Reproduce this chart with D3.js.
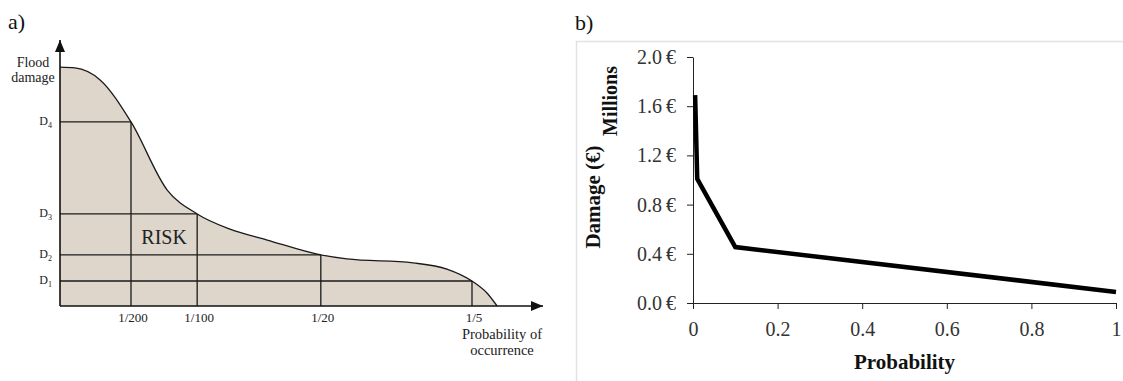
<!DOCTYPE html>
<html>
<head>
<meta charset="utf-8">
<script src="https://cdn.jsdelivr.net/npm/d3@7"></script>
<style>
  html, body { margin: 0; padding: 0; background: #fff; }
  svg text { font-family: "Liberation Serif", "Times New Roman", serif; }
</style>
</head>
<body>
<script>
// ---- panel a: conceptual risk curve (abstract units 0..100) ----
const curveX = [0, 3.1, 8.3, 14.7, 22.2, 28.4, 35.2, 42.9, 54.0, 59.4, 73.1, 80.1, 85.3, 88.4, 90.5];
const curveY = [89.8, 89.5, 85.0, 69.2, 43.6, 34.6, 28.9, 24.8, 19.2, 17.7, 16.2, 13.9, 9.4, 4.9, 0];
const damageLevels = [69.2, 34.6, 19.2, 9.4];
const damageNames = ["4", "3", "2", "1"];
const probPositions = [14.7, 28.4, 54.0, 85.3];
const probLabels = ["1/200", "1/100", "1/20", "1/5"];

// ---- panel b: damage vs probability ----
const probability = [0.005, 0.01, 0.1, 1];
const damageMillions = [1.69, 1.01, 0.455, 0.09];
const xTicksB = [0, 0.2, 0.4, 0.6, 0.8, 1];
const yTicksB = [0, 0.4, 0.8, 1.2, 1.6, 2.0];

const serif = "'Liberation Serif', 'Times New Roman', serif";
const W = 1123, H = 381;
const svg = d3.select("body").append("svg")
  .attr("width", W)
  .attr("height", H)
  .attr("viewBox", [0, 0, W, H])
  .attr("font-family", serif);

// arrow marker
svg.append("defs").append("marker")
  .attr("id", "arrow")
  .attr("viewBox", "0 0 12 10")
  .attr("refX", 12)
  .attr("refY", 5)
  .attr("markerWidth", 12)
  .attr("markerHeight", 10)
  .attr("markerUnits", "userSpaceOnUse")
  .attr("orient", "auto")
  .append("path")
  .attr("d", "M0,0L12,5L0,10z")
  .attr("fill", "#111");

// ================= panel a =================
const xa = d3.scaleLinear().domain([0, 100]).range([60, 543]);
const ya = d3.scaleLinear().domain([0, 100]).range([306, 40]);
const I = d3.range(curveX.length);

const ga = svg.append("g");

ga.append("text")
  .attr("x", 8).attr("y", 29)
  .attr("font-size", 22)
  .attr("fill", "#111")
  .text("a)");

const area = d3.area()
  .curve(d3.curveMonotoneX)
  .x(i => xa(curveX[i]))
  .y0(ya(0))
  .y1(i => ya(curveY[i]));

const line = d3.line()
  .curve(d3.curveMonotoneX)
  .x(i => xa(curveX[i]))
  .y(i => ya(curveY[i]));

ga.append("path")
  .attr("fill", "#ded6ca")
  .attr("d", area(I));

ga.append("path")
  .attr("fill", "none")
  .attr("stroke", "#1a1a1a")
  .attr("stroke-width", 1.3)
  .attr("d", line(I));

// grid lines to the curve
damageLevels.forEach((lv, i) => {
  ga.append("line")
    .attr("x1", xa(0)).attr("x2", xa(probPositions[i]))
    .attr("y1", ya(lv)).attr("y2", ya(lv))
    .attr("stroke", "#1a1a1a").attr("stroke-width", 1.3);
  ga.append("line")
    .attr("x1", xa(probPositions[i])).attr("x2", xa(probPositions[i]))
    .attr("y1", ya(lv)).attr("y2", ya(0))
    .attr("stroke", "#1a1a1a").attr("stroke-width", 1.3);

  const t = ga.append("text")
    .attr("x", xa(0) - 8)
    .attr("y", ya(lv) + 3)
    .attr("text-anchor", "end")
    .attr("font-size", 12)
    .attr("fill", "#222");
  t.append("tspan").text("D");
  t.append("tspan").attr("font-size", 8).attr("dy", 3).text(damageNames[i]);

  ga.append("text")
    .attr("x", xa(probPositions[i]) + 2)
    .attr("y", ya(0) + 16)
    .attr("text-anchor", "middle")
    .attr("font-size", 13)
    .attr("fill", "#222")
    .text(probLabels[i]);
});

// axes with arrows
ga.append("line")
  .attr("x1", xa(0)).attr("y1", ya(0))
  .attr("x2", xa(0)).attr("y2", ya(100))
  .attr("stroke", "#111").attr("stroke-width", 1.6)
  .attr("marker-end", "url(#arrow)");
ga.append("line")
  .attr("x1", xa(0)).attr("y1", ya(0))
  .attr("x2", xa(100)).attr("y2", ya(0))
  .attr("stroke", "#111").attr("stroke-width", 1.6)
  .attr("marker-end", "url(#arrow)");

ga.append("text")
  .attr("x", (xa(probPositions[0]) + xa(probPositions[1])) / 2)
  .attr("y", 244)
  .attr("text-anchor", "middle")
  .attr("font-size", 20)
  .attr("fill", "#222")
  .text("RISK");

ga.append("text")
  .attr("text-anchor", "middle")
  .attr("font-size", 14)
  .attr("fill", "#222")
  .selectAll("tspan")
  .data(["Flood", "damage"])
  .join("tspan")
  .attr("x", 33)
  .attr("y", (d, i) => 67 + i * 15)
  .text(d => d);

ga.append("text")
  .attr("text-anchor", "middle")
  .attr("font-size", 14.5)
  .attr("fill", "#222")
  .selectAll("tspan")
  .data(["Probability of", "occurrence"])
  .join("tspan")
  .attr("x", 502)
  .attr("y", (d, i) => 339 + i * 16)
  .text(d => d);

// ================= panel b =================
const gb = svg.append("g");

gb.append("text")
  .attr("x", 575).attr("y", 30)
  .attr("font-size", 22)
  .attr("fill", "#111")
  .text("b)");

// faint frame
gb.append("path")
  .attr("d", "M576.5,381V41.5H1123")
  .attr("fill", "none")
  .attr("stroke", "#e2e2e2")
  .attr("stroke-width", 1.5);

const xb = d3.scaleLinear().domain([0, 1]).range([693, 1116]);
const yb = d3.scaleLinear().domain([0, 2]).range([303, 57]);

gb.append("g")
  .attr("transform", `translate(0,${yb(0)})`)
  .call(d3.axisBottom(xb).tickValues(xTicksB).tickFormat(d3.format("")).tickSize(6).tickSizeOuter(0).tickPadding(13))
  .attr("font-family", serif)
  .attr("font-size", 20)
  .call(g => g.select(".domain").attr("stroke", "#222"))
  .call(g => g.selectAll(".tick line").attr("stroke", "#222"))
  .call(g => g.selectAll(".tick text").attr("fill", "#333"));

gb.append("g")
  .attr("transform", `translate(${xb(0)},0)`)
  .call(d3.axisLeft(yb).tickValues(yTicksB).tickFormat(d => d.toFixed(1) + "\u2009€").tickSize(6).tickSizeOuter(0).tickPadding(11))
  .attr("font-family", serif)
  .attr("font-size", 20)
  .call(g => g.select(".domain").attr("stroke", "#222"))
  .call(g => g.selectAll(".tick line").attr("stroke", "#222"))
  .call(g => g.selectAll(".tick text").attr("fill", "#333"));

const lineB = d3.line()
  .x(i => xb(probability[i]))
  .y(i => yb(damageMillions[i]));

gb.append("path")
  .attr("fill", "none")
  .attr("stroke", "#000")
  .attr("stroke-width", 4.5)
  .attr("stroke-linejoin", "miter")
  .attr("d", lineB(d3.range(probability.length)));

gb.append("text")
  .attr("x", (xb(0) + xb(1)) / 2)
  .attr("y", 369)
  .attr("text-anchor", "middle")
  .attr("font-size", 21)
  .attr("font-weight", "bold")
  .attr("fill", "#111")
  .text("Probability");

gb.append("text")
  .attr("transform", "translate(600,197) rotate(-90)")
  .attr("text-anchor", "middle")
  .attr("font-size", 21)
  .attr("font-weight", "bold")
  .attr("fill", "#111")
  .text("Damage (€)");

gb.append("text")
  .attr("transform", "translate(617,101) rotate(-90)")
  .attr("text-anchor", "middle")
  .attr("font-size", 20)
  .attr("font-weight", "bold")
  .attr("fill", "#111")
  .text("Millions");
</script>
</body>
</html>
